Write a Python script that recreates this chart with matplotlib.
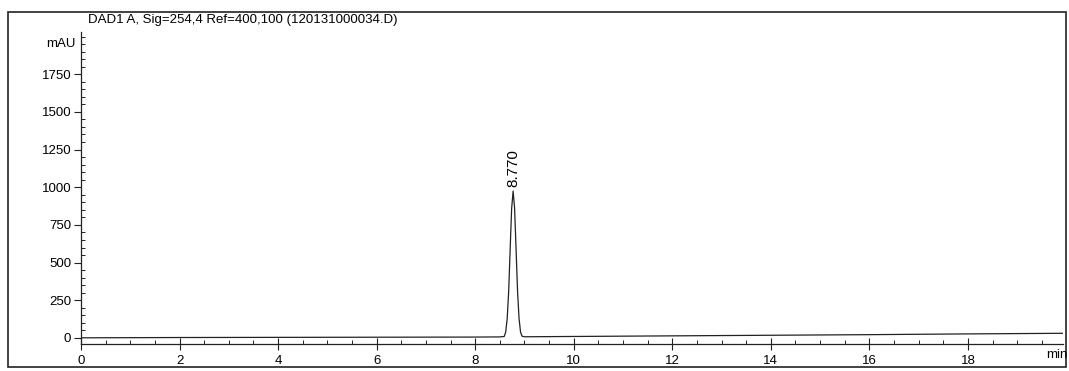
import matplotlib
matplotlib.use("Agg")
import matplotlib.pyplot as plt
from matplotlib.ticker import MultipleLocator
from matplotlib.patches import Rectangle

plt.rcParams['font.family'] = ['Liberation Sans', 'DejaVu Sans']

title = "DAD1 A, Sig=254,4 Ref=400,100 (120131000034.D)"
peak_label = "8.770"
peak_time = 8.77
peak_height = 975

time_min = [0, 2, 4, 6, 8, 8.5, 8.59, 8.62, 8.65, 8.68, 8.71, 8.74, 8.77,
            8.80, 8.83, 8.86, 8.89, 8.92, 8.95, 9.0, 10, 12, 14, 16, 18, 19.93]
signal_mau = [1, 3, 4, 5, 6, 7, 10, 40, 130, 310, 590, 860, 975,
              860, 590, 310, 130, 40, 12, 8, 10, 14, 18, 22, 27, 31]

x_ticks = [0, 2, 4, 6, 8, 10, 12, 14, 16, 18]
y_ticks = [0, 250, 500, 750, 1000, 1250, 1500, 1750]

W, H = 1069, 371
fig = plt.figure(figsize=(W / 100, H / 100), dpi=100)
ax = fig.add_axes([81 / W, 1 - 344 / H, (1063 - 81) / W, (344 - 32) / H])

ax.plot(time_min, signal_mau, color='#222222', lw=0.9)

ax.set_xlim(0, 19.93)
ax.set_ylim(-40, 2030)

for s in ['top', 'right']:
    ax.spines[s].set_visible(False)
for s in ['left', 'bottom']:
    ax.spines[s].set_linewidth(0.9)
    ax.spines[s].set_color('#222222')

ax.set_xticks(x_ticks)
ax.set_yticks(y_ticks)
ax.xaxis.set_minor_locator(MultipleLocator(0.5))
ax.yaxis.set_minor_locator(MultipleLocator(50))
ax.tick_params(axis='x', which='major', direction='inout', length=8, width=0.8,
               labelsize=9.5, pad=4, color='#222222')
ax.tick_params(axis='x', which='minor', direction='in', length=3, width=0.7, color='#222222')
ax.tick_params(axis='y', which='major', direction='out', length=5, width=0.8,
               labelsize=9.5, pad=2, color='#222222')
ax.tick_params(axis='y', which='minor', direction='in', length=3, width=0.7, color='#222222')

ax.text(-0.006, 1950, "mAU", transform=ax.get_yaxis_transform(),
        ha='right', va='center', fontsize=9.5)
fig.text(1068 / W, 1 - 355 / H, "min", ha='right', va='center', fontsize=9.5)

ax.annotate(peak_label, xy=(peak_time, peak_height), xytext=(0, 3),
            textcoords='offset points', rotation=90, ha='center', va='bottom',
            fontsize=11)

fig.text(88 / W, 1 - 20 / H, title, ha='left', va='center', fontsize=9.5)

fig.add_artist(Rectangle((8 / W, 1 - 367 / H), (1066 - 8) / W, (367 - 12) / H,
                         transform=fig.transFigure, fill=False,
                         edgecolor='#222222', lw=1.2))

fig.savefig("out.png", dpi=100)
